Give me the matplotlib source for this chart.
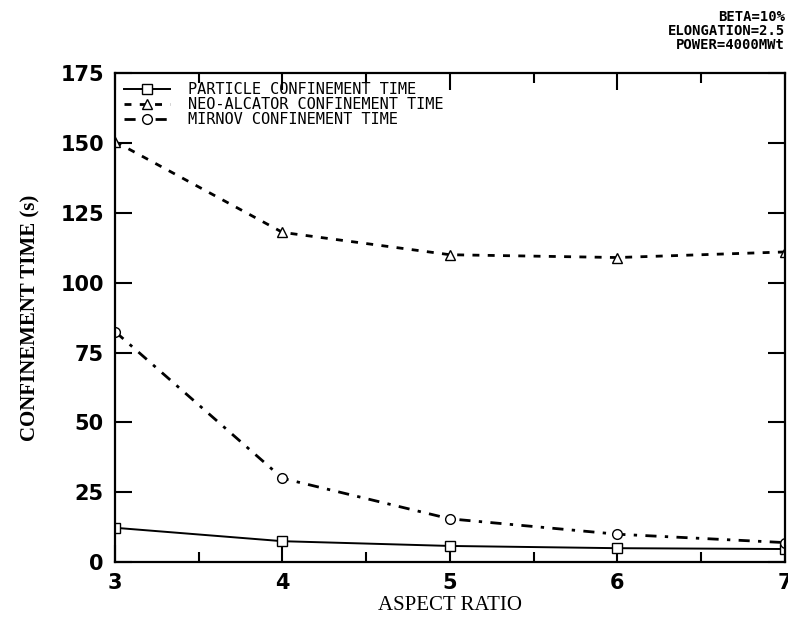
import matplotlib.pyplot as plt
import numpy as np

# 数据
aspect_ratio = [3, 4, 5, 6, 7]
particle_time = [12.3, 7.5, 5.8, 5.0, 4.7]
neo_alcator_time = [150.5, 118.0, 110.0, 109.0, 111.0]
mirnov_time = [82.5, 30.0, 15.5, 10.0, 7.0]

fig = plt.figure(figsize=(7.88, 6.41), dpi=100)
ax = fig.add_axes([0.146, 0.123, 0.85, 0.763])

ax.plot(aspect_ratio, particle_time, color='black', lw=1.4, linestyle='-',
        marker='s', markersize=7, markerfacecolor='white', markeredgecolor='black',
        label='PARTICLE CONFINEMENT TIME')
ax.plot(aspect_ratio, neo_alcator_time, color='black', lw=2, linestyle=(0, (2.5, 3)),
        marker='^', markersize=7, markerfacecolor='white', markeredgecolor='black',
        label='NEO-ALCATOR CONFINEMENT TIME')
ax.plot(aspect_ratio, mirnov_time, color='black', lw=2, linestyle=(0, (4, 3, 1.2, 3)),
        marker='o', markersize=7, markerfacecolor='white', markeredgecolor='black',
        label='MIRNOV CONFINEMENT TIME')

ax.set_xlim(3, 7)
ax.set_ylim(0, 175)
ax.set_xticks([3, 4, 5, 6, 7])
ax.set_xticks(np.arange(3.5, 7, 1), minor=True)
ax.set_yticks(np.arange(0, 176, 25))

ax.tick_params(which='both', direction='in', top=True, right=True, width=1.5)
ax.tick_params(which='major', length=12, labelsize=15, pad=8)
ax.tick_params(which='minor', length=7)
for lbl in ax.get_xticklabels() + ax.get_yticklabels():
    lbl.set_fontweight('bold')
for sp in ax.spines.values():
    sp.set_linewidth(1.6)

ax.set_xlabel('ASPECT RATIO', fontsize=15, family='Liberation Serif', labelpad=2)
ax.set_ylabel('CONFINEMENT TIME (s)', fontsize=15, family='Liberation Serif',
              fontweight='bold', labelpad=14)

# 图例
ax.legend(loc='upper left', frameon=False, handlelength=3, handletextpad=1.2,
          labelspacing=0.0, borderaxespad=0.2,
          prop={'family': 'DejaVu Sans Mono', 'size': 11})

# 右上角注释
fig.text(0.996, 0.985, 'BETA=10%\nELONGATION=2.5\nPOWER=4000MWt', ha='right', va='top',
         fontsize=10, fontweight='bold', family='DejaVu Sans Mono', linespacing=1.0)

fig.savefig('out.png', dpi=100)
